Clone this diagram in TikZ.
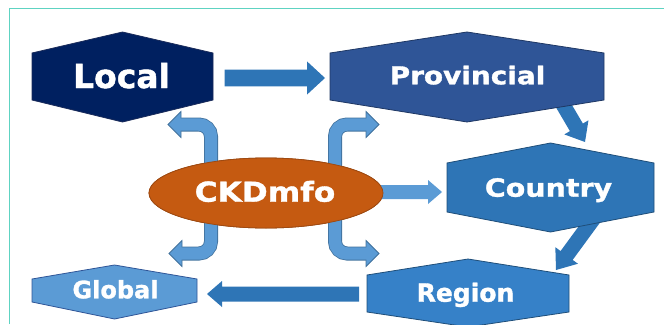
\documentclass[tikz,border=0pt]{standalone}
\usepackage{fontspec}
\setmainfont{DejaVu Sans}
\newfontfamily\heavyfont[FakeBold=1.3]{DejaVu Sans}
\newfontfamily\widefont[FakeStretch=1.14,FakeBold=1.3]{DejaVu Sans}
\usetikzlibrary{calc,shapes.geometric}
\definecolor{cLocal}{HTML}{002060}
\definecolor{cLocalB}{HTML}{1A2B5A}
\definecolor{cProv}{HTML}{2F5597}
\definecolor{cProvB}{HTML}{1F3864}
\definecolor{cCountry}{HTML}{2E75B6}
\definecolor{cCountryB}{HTML}{1F4E79}
\definecolor{cRegion}{HTML}{3681C8}
\definecolor{cGlobal}{HTML}{5B9BD5}
\definecolor{cGlobalB}{HTML}{2F5597}
\definecolor{cArrow}{HTML}{2E75B6}
\definecolor{cLight}{HTML}{5B9BD5}
\definecolor{cLightB}{HTML}{41719C}
\definecolor{cOrange}{HTML}{C55A11}
\definecolor{cOrangeB}{HTML}{9E4A12}
\definecolor{cFrame}{HTML}{5ED3C2}
\newcommand\blockarrow[6]{%
  \coordinate (hb) at ($#2!#5!#1$);
  \fill[#6] ($#1!#3!90:#2$) -- ($(hb)!#3!90:#2$) -- ($(hb)!#4!90:#2$) -- #2
    -- ($(hb)!#4!-90:#2$) -- ($(hb)!#3!-90:#2$) -- ($#1!#3!-90:#2$) -- cycle;}
\tikzset{
  hexbody/.style={draw=none, inner sep=0pt, outer sep=0pt},
  hexline/.style={line width=0.8pt},
  lbl/.style={text=white, anchor=base, inner sep=0pt},
  bentout/.style={draw=cLightB, line width=14pt, rounded corners=12pt},
  bentin/.style={draw=cLight, line width=12.4pt, rounded corners=12pt},
  benthead/.style={fill=cLight, draw=cLightB, line width=0.8pt, line join=miter},
}
\begin{document}
\begin{tikzpicture}[x=1pt,y=-1pt]
\useasboundingbox (0,0) rectangle (664,324);
% frame
\draw[cFrame, line width=1.5pt] (9.5,324) -- (9.5,8.5) -- (664,8.5);

% hexagon bodies (positions)
\node[hexbody, minimum width=181pt, minimum height=47pt] (localhex) at (122.5,76.5) {};
\node[hexbody, minimum width=274pt, minimum height=47pt] (provhex) at (467,76.5) {};
\node[hexbody, minimum width=207pt, minimum height=49pt] (countryhex) at (550.5,187.5) {};
\node[hexbody, minimum width=202pt, minimum height=37pt] (regionhex) at (468,293.5) {};
\node[hexbody, minimum width=165pt, minimum height=23pt] (globalhex) at (114.5,290.5) {};
\node[ellipse, fill=cOrange, draw=cOrangeB, line width=0.8pt, minimum width=234pt, minimum height=70pt, inner sep=0pt] (ckdshape) at (266,193) {};

% straight block arrows (drawn behind the shapes)
\coordinate (lp-s) at ($(localhex.east)+(11.5,1.5)$);
\coordinate (lp-e) at ($(provhex.west)+(-5,1.5)$);
\blockarrow{(lp-s)}{(lp-e)}{8.4pt}{16.6pt}{18pt}{cArrow}
\coordinate (pc-s) at ($(provhex.south east)+(-46,-4)$);
\coordinate (pc-e) at ($(countryhex.north)+(34.5,-21)$);
\blockarrow{(pc-s)}{(pc-e)}{7.5pt}{14pt}{17pt}{cArrow}
\coordinate (cr-s) at ($(countryhex.south east)+(-57,2)$);
\coordinate (cr-e) at ($(regionhex.north)+(88,-5)$);
\blockarrow{(cr-s)}{(cr-e)}{7.5pt}{14pt}{18pt}{cArrow}
\coordinate (rg-s) at ($(regionhex.west)+(-8,0.5)$);
\coordinate (rg-e) at ($(globalhex.east)+(10,3.5)$);
\blockarrow{(rg-s)}{(rg-e)}{7.5pt}{13pt}{15pt}{cArrow}
\coordinate (ck-s) at ($(ckdshape.east)+(-13,-1)$);
\coordinate (ck-e) at ($(countryhex.west)+(-5,4.5)$);
\blockarrow{(ck-s)}{(ck-e)}{7pt}{12pt}{14pt}{cLight}

% hexagons
\draw[hexline, fill=cLocal, draw=cLocalB] (localhex.north west) -- ([yshift=21pt]localhex.north) -- (localhex.north east) -- (localhex.south east) -- ([yshift=-22pt]localhex.south) -- (localhex.south west) -- cycle;
\draw[hexline, fill=cProv, draw=cProvB] (provhex.north west) -- ([yshift=21pt]provhex.north) -- (provhex.north east) -- (provhex.south east) -- ([yshift=-22pt]provhex.south) -- (provhex.south west) -- cycle;
\draw[hexline, fill=cCountry, draw=cCountryB] (countryhex.north west) -- ([yshift=20pt]countryhex.north) -- (countryhex.north east) -- (countryhex.south east) -- ([yshift=-20pt]countryhex.south) -- (countryhex.south west) -- cycle;
\draw[hexline, fill=cRegion, draw=cCountryB] (regionhex.north west) -- ([yshift=16pt]regionhex.north) -- (regionhex.north east) -- (regionhex.south east) -- ([yshift=-15pt]regionhex.south) -- (regionhex.south west) -- cycle;
\draw[hexline, fill=cGlobal, draw=cGlobalB] (globalhex.north west) -- ([yshift=14pt]globalhex.north) -- (globalhex.north east) -- (globalhex.south east) -- ([yshift=-17pt]globalhex.south) -- (globalhex.south west) -- cycle;

% labels
\node[lbl, font=\heavyfont\bfseries\fontsize{33}{36}\selectfont] (local) at (121.5,88) {Local};
\node[lbl, font=\widefont\bfseries\fontsize{24.5}{28}\selectfont] (prov) at (467.5,84.3) {Provincial};
\node[lbl, font=\widefont\bfseries\fontsize{25}{28}\selectfont] (country) at (548.5,196.7) {Country};
\node[lbl, font=\heavyfont\bfseries\fontsize{25}{28}\selectfont] (region) at (465.5,301.7) {Region};
\node[lbl, font=\heavyfont\bfseries\fontsize{24}{28}\selectfont] (global) at (115.5,298.3) {Global};

% bent arrows from CKDmfo
\coordinate (bl) at ($(ckdshape.center)+(-55,0)$);
\coordinate (br) at ($(ckdshape.center)+(69,0)$);
\coordinate (tl-b) at (180,124.5);
\coordinate (tr-b) at (367,124.5);
\coordinate (dl-b) at (181,253.5);
\coordinate (dr-b) at (367,253.5);
\coordinate (tl-t) at (168,124.5);
\coordinate (tr-t) at (379,124.5);
\coordinate (dl-t) at (169,253.5);
\coordinate (dr-t) at (379,253.5);
\draw[bentout] (bl) |- (tl-b);
\draw[bentout] (bl) |- (dl-b);
\draw[bentout] (br) |- (tr-b);
\draw[bentout] (br) |- (dr-b);
\draw[benthead] ($(tl-t)+(13,-13)$) -- (tl-t) -- ($(tl-t)+(13,13)$) -- cycle;
\draw[benthead] ($(dl-t)+(13,-13)$) -- (dl-t) -- ($(dl-t)+(13,13)$) -- cycle;
\draw[benthead] ($(tr-t)+(-13,-13)$) -- (tr-t) -- ($(tr-t)+(-13,13)$) -- cycle;
\draw[benthead] ($(dr-t)+(-13,-13)$) -- (dr-t) -- ($(dr-t)+(-13,13)$) -- cycle;
\draw[bentin] (bl) |- ($(tl-b)+(-1,0)$);
\draw[bentin] (bl) |- ($(dl-b)+(-1,0)$);
\draw[bentin] (br) |- ($(tr-b)+(1,0)$);
\draw[bentin] (br) |- ($(dr-b)+(1,0)$);

% ellipse on top
\node[ellipse, fill=cOrange, draw=cOrangeB, line width=0.8pt, minimum width=234pt, minimum height=70pt, inner sep=0pt] (ckd) at (ckdshape.center) {};
\node[lbl, font=\widefont\bfseries\fontsize{27.4}{30}\selectfont] (ckdtext) at (265,201.7) {CKDmfo};
\end{tikzpicture}
\end{document}
